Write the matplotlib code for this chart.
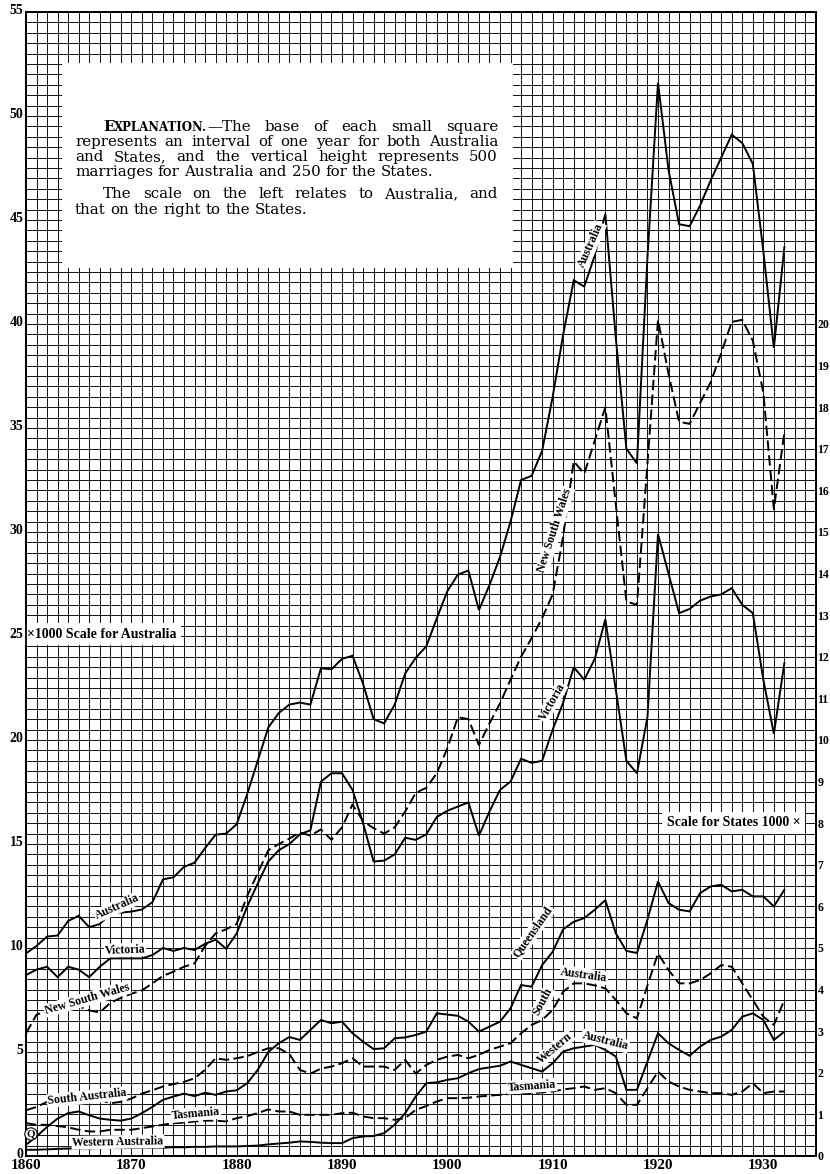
import matplotlib
matplotlib.use("Agg")
import matplotlib.pyplot as plt
import matplotlib.transforms as mtransforms
import numpy as np
from matplotlib.patches import Rectangle

plt.rcParams["lines.scale_dashes"] = False

years = np.arange(1860, 1933)

# Australia, thousands of marriages (left scale)
australia = [
    9.74, 10.1, 10.55, 10.6, 11.3, 11.55, 11.0, 11.15, 11.65, 11.7,
    11.75, 11.85, 12.2, 13.3, 13.4, 13.9, 14.1, 14.8, 15.45, 15.5,
    15.95, 17.4, 19.0, 20.6, 21.3, 21.7, 21.8, 21.7, 23.45, 23.4,
    23.9, 24.05, 22.7, 21.0, 20.8, 21.7, 23.2, 23.95, 24.5, 25.85,
    27.15, 27.95, 28.15, 26.25, 27.45, 28.8, 30.5, 32.5, 32.7, 33.9,
    36.5, 39.5, 42.1, 41.8, 43.3, 45.3, 39.3, 34.0, 33.3, 43.2,
    51.6, 47.4, 44.8, 44.7, 45.7, 46.9, 48.0, 49.1, 48.7, 47.7,
    43.5, 38.85, 43.7,
]

# States, thousands of marriages (right scale)
new_south_wales = [
    2.95, 3.4, 3.48, 3.53, 3.58, 3.6, 3.5, 3.45, 3.68, 3.8,
    3.9, 3.98, 4.15, 4.33, 4.43, 4.55, 4.63, 5.05, 5.35, 5.45,
    5.58, 6.25, 6.8, 7.35, 7.5, 7.63, 7.78, 7.7, 7.85, 7.6,
    7.9, 8.45, 8.05, 7.88, 7.75, 7.9, 8.28, 8.73, 8.85, 9.2,
    9.8, 10.55, 10.5, 9.88, 10.4, 10.88, 11.45, 12.0, 12.45, 12.93,
    13.5, 14.9, 16.7, 16.4, 17.2, 18.0, 15.65, 13.33, 13.25, 16.65,
    20.1, 18.8, 17.65, 17.6, 18.1, 18.6, 19.3, 20.05, 20.1, 19.6,
    18.35, 15.55, 17.4,
]
victoria = [
    4.35, 4.48, 4.55, 4.3, 4.55, 4.48, 4.3, 4.55, 4.75, 4.75,
    4.75, 4.75, 4.83, 5.0, 4.93, 5.0, 4.95, 5.1, 5.2, 4.98,
    5.35, 6.0, 6.55, 7.08, 7.35, 7.5, 7.73, 7.83, 9.0, 9.2,
    9.2, 8.8, 8.0, 7.08, 7.1, 7.25, 7.65, 7.6, 7.73, 8.15,
    8.3, 8.4, 8.5, 7.7, 8.28, 8.8, 9.0, 9.55, 9.45, 9.5,
    10.25, 10.9, 11.75, 11.45, 11.95, 12.9, 11.2, 9.5, 9.2, 10.55,
    14.95, 14.0, 13.05, 13.15, 13.35, 13.45, 13.5, 13.65, 13.25, 13.05,
    11.45, 10.15, 11.85,
]
queensland = [
    0.27, 0.47, 0.7, 0.9, 1.03, 1.07, 0.98, 0.9, 0.87, 0.85,
    0.9, 1.03, 1.18, 1.35, 1.43, 1.5, 1.44, 1.52, 1.47, 1.55,
    1.58, 1.75, 2.07, 2.5, 2.71, 2.86, 2.79, 3.03, 3.27, 3.19,
    3.23, 2.95, 2.75, 2.57, 2.59, 2.83, 2.85, 2.91, 2.99, 3.43,
    3.4, 3.37, 3.23, 2.99, 3.11, 3.23, 3.55, 4.11, 4.07, 4.59,
    4.91, 5.45, 5.63, 5.72, 5.92, 6.15, 5.35, 4.93, 4.88, 5.68,
    6.6, 6.08, 5.92, 5.88, 6.32, 6.48, 6.52, 6.36, 6.4, 6.24,
    6.24, 6.0, 6.4,
]
south_australia = [
    1.1, 1.18, 1.3, 1.38, 1.43, 1.43, 1.38, 1.35, 1.27, 1.3,
    1.38, 1.5, 1.58, 1.67, 1.73, 1.78, 1.87, 2.07, 2.35, 2.31,
    2.35, 2.4, 2.5, 2.59, 2.59, 2.45, 2.07, 1.98, 2.1, 2.15,
    2.23, 2.35, 2.15, 2.15, 2.15, 2.07, 2.31, 1.98, 2.19, 2.31,
    2.39, 2.43, 2.35, 2.43, 2.55, 2.63, 2.71, 2.95, 3.15, 3.27,
    3.51, 3.95, 4.15, 4.15, 4.1, 4.03, 3.75, 3.43, 3.31, 4.1,
    4.87, 4.47, 4.15, 4.15, 4.23, 4.39, 4.59, 4.55, 4.15, 3.75,
    3.35, 3.15, 3.75,
]
western_australia = [
    0.15, 0.15, 0.16, 0.17, 0.18, 0.18, 0.18, 0.19, 0.19, 0.19,
    0.19, 0.2, 0.2, 0.2, 0.21, 0.21, 0.22, 0.22, 0.23, 0.23,
    0.23, 0.24, 0.25, 0.28, 0.3, 0.32, 0.35, 0.34, 0.32, 0.31,
    0.31, 0.43, 0.47, 0.48, 0.55, 0.75, 1.03, 1.43, 1.75, 1.77,
    1.83, 1.87, 1.99, 2.09, 2.13, 2.17, 2.27, 2.19, 2.11, 2.03,
    2.23, 2.51, 2.59, 2.63, 2.67, 2.55, 2.39, 1.59, 1.59, 2.27,
    2.95, 2.71, 2.55, 2.41, 2.63, 2.79, 2.87, 3.03, 3.35, 3.43,
    3.27, 2.79, 2.99,
]
tasmania = [
    0.79, 0.75, 0.75, 0.72, 0.69, 0.63, 0.59, 0.59, 0.63, 0.63,
    0.63, 0.67, 0.71, 0.75, 0.79, 0.8, 0.83, 0.85, 0.85, 0.83,
    0.91, 0.96, 1.03, 1.12, 1.07, 1.07, 0.99, 0.99, 0.99, 0.99,
    1.03, 1.04, 0.95, 0.91, 0.91, 0.87, 0.91, 1.11, 1.2, 1.31,
    1.39, 1.39, 1.4, 1.43, 1.45, 1.47, 1.49, 1.5, 1.51, 1.53,
    1.55, 1.6, 1.63, 1.67, 1.59, 1.63, 1.51, 1.23, 1.23, 1.63,
    2.03, 1.79, 1.67, 1.59, 1.55, 1.51, 1.51, 1.47, 1.55, 1.75,
    1.51, 1.55, 1.55,
]

decades = list(range(1860, 1931, 10))
left_ticks = list(range(0, 56, 5))
right_ticks = list(range(0, 21))

W, H = 830, 1174
fig = plt.figure(figsize=(W / 100, H / 100), dpi=100)
fig.patch.set_facecolor("white")

# pixel box of the ruled area
X0, X1, Y0, Y1 = 26, 816, 12, 1156
ax = fig.add_axes([X0 / W, 1 - Y1 / H, (X1 - X0) / W, (Y1 - Y0) / H])
ax.set_xlim(1860, 1935)
ax.set_ylim(0, 55)
ax2 = ax.twinx()
ax2.set_ylim(0, 27.5)

def px2data(px, py):
    return (1860 + (px - X0) / (X1 - X0) * 75, (Y1 - py) / (Y1 - Y0) * 55)

serif_b = dict(family="Liberation Serif", weight="bold")

# small squares: one year by 500 marriages
ax.set_xticks(np.arange(1860, 1936), minor=True)
ax.set_yticks(np.arange(0, 55.01, 0.5), minor=True)
ax.grid(which="both", color="black", lw=0.65)
ax.set_xticks(decades)
ax.set_xticklabels([str(d) for d in decades], fontsize=11, **serif_b)
ax.set_yticks(left_ticks)
ax.set_yticklabels([str(v) for v in left_ticks], fontsize=10, **serif_b)
ax.tick_params(which="both", length=0)
ax.tick_params(axis="x", pad=2)
ax.tick_params(axis="y", pad=2)
lift = mtransforms.ScaledTranslation(0, 3 / 100, fig.dpi_scale_trans)
for lbl in ax.get_yticklabels():
    lbl.set_transform(lbl.get_transform() + lift)

ax2.set_yticks(right_ticks)
ax2.set_yticklabels([str(v) for v in right_ticks], fontsize=8.5, **serif_b)
ax2.tick_params(length=0, pad=1)
for a in (ax, ax2):
    for s in a.spines.values():
        s.set_linewidth(1.3)

# explanation panel
bx0, by1 = px2data(62, 63)
bx1, by0 = px2data(513, 268)
ax.add_patch(Rectangle((bx0, by0), bx1 - bx0, by1 - by0, facecolor="white",
                       edgecolor="none", zorder=2))

solid = dict(color="black", lw=1.4, solid_joinstyle="miter")
dash = dict(color="black", lw=1.4, dashes=(7.5, 3.2))

ax.plot(years, australia, zorder=3, **solid)
ax2.plot(years, new_south_wales, **dash)
ax2.plot(years, victoria, **solid)
ax2.plot(years, queensland, **solid)
ax2.plot(years, south_australia, **dash)
ax2.plot(years, western_australia, **solid)
ax2.plot(years, tasmania, **dash)

# scale captions
sx, sy = px2data(27, 634)
ax.text(sx, sy, "\u00d71000 Scale for Australia", ha="left", va="center",
        fontsize=10, zorder=4, **serif_b,
        bbox=dict(facecolor="white", edgecolor="none", pad=3))
sx, sy = px2data(667, 823)
ax2.text(sx, sy / 2, "Scale for States 1000 \u00d7", ha="left", va="center",
         fontsize=10, **serif_b,
         bbox=dict(facecolor="white", edgecolor="none", pad=3.5))

# series names written along the curves
labels = [
    ("Australia", 117, 907, 24),
    ("Victoria", 125, 950, 2),
    ("New South Wales", 87, 999, 16),
    ("South Australia", 87, 1097, 6),
    ("Tasmania", 196, 1114, 5),
    ("Western Australia", 118, 1142, 1),
    ("Australia", 591, 245, 66),
    ("New South Wales", 555, 530, 72),
    ("Victoria", 552, 702, 60),
    ("Queensland", 533, 932, 55),
    ("South", 543, 1002, 62),
    ("Australia", 584, 975, -8),
    ("Western", 555, 1048, 40),
    ("Australia", 605, 1041, -14),
    ("Tasmania", 532, 1086, 4),
]
for name, px, py, rot in labels:
    lx, ly = px2data(px, py)
    ax2.text(lx, ly / 2, name, ha="center", va="center", rotation=rot,
             rotation_mode="anchor", fontsize=8.5, **serif_b,
             bbox=dict(facecolor="white", edgecolor="none", pad=0.6))
qx, qy = px2data(31, 1134)
ax2.text(qx, qy / 2, "Q", ha="center", va="center", fontsize=8, **serif_b,
         bbox=dict(boxstyle="circle,pad=0.15", facecolor="white",
                   edgecolor="black", lw=0.8))

# explanation text, justified between two margins
renderer = fig.canvas.get_renderer()
FS = 10.8
LEFT, RIGHT = 75, 498

def seg_width(text, size, weight):
    t = fig.text(0, 0, text, fontsize=size, family="DejaVu Serif", weight=weight)
    w = t.get_window_extent(renderer).width
    t.remove()
    return w

rows = [
    (131, 103, True, [[("E", FS, "bold"), ("XPLANATION.", FS * 0.78, "bold"), ("\u2014The", FS, "normal")],
                      "base", "of", "each", "small", "square"]),
    (146, LEFT, True, "represents an interval of one year for both Australia".split()),
    (161, LEFT, True, "and States, and the vertical height represents 500".split()),
    (176, LEFT, False, "marriages for Australia and 250 for the States.".split()),
    (198, 103, True, "The scale on the left relates to Australia, and".split()),
    (214, LEFT, False, "that on the right to the States.".split()),
]
space = seg_width("a b", FS, "normal") - seg_width("ab", FS, "normal")
for base_y, start, justify, words in rows:
    words = [w if isinstance(w, list) else [(w, FS, "normal")] for w in words]
    widths = [sum(seg_width(t, s, wt) for t, s, wt in w) for w in words]
    gap = (RIGHT - start - sum(widths)) / (len(words) - 1) if justify else space
    x = start
    for w, ww in zip(words, widths):
        for t, s, wt in w:
            fig.text(x / W, 1 - base_y / H, t, fontsize=s, family="DejaVu Serif",
                     weight=wt, va="baseline", ha="left")
            x += seg_width(t, s, wt)
        x += gap

fig.savefig("out.png", dpi=100, facecolor="white")
